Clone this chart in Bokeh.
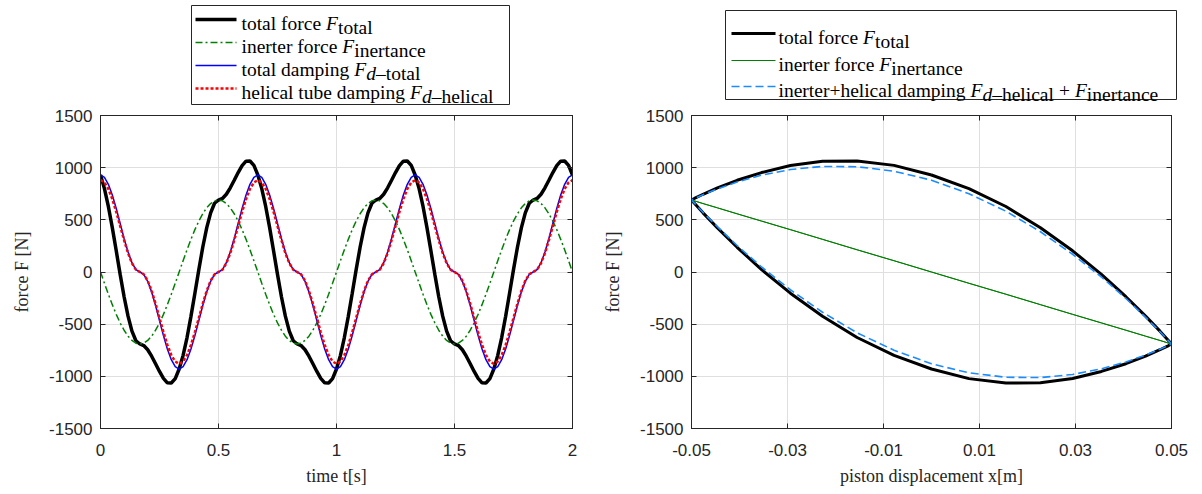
from bokeh.plotting import figure
from bokeh.layouts import row, column
from bokeh.models import Range1d, FixedTicker, LinearAxis, NumeralTickFormatter
from bokeh.core.properties import value
from bokeh.embed import file_html
from bokeh.resources import INLINE

# ---------------- data ----------------
time_s = [
    0, 0.0167, 0.0333, 0.05, 0.0667, 0.0833, 0.1, 0.1167, 0.1333, 0.15,
    0.1667, 0.1833, 0.2, 0.2167, 0.2333, 0.25, 0.2667, 0.2833, 0.3, 0.3167,
    0.3333, 0.35, 0.3667, 0.3833, 0.4, 0.4167, 0.4333, 0.45, 0.4667, 0.4833,
    0.5, 0.5167, 0.5333, 0.55, 0.5667, 0.5833, 0.6, 0.6167, 0.6333, 0.65,
    0.6667, 0.6833, 0.7, 0.7167, 0.7333, 0.75, 0.7667, 0.7833, 0.8, 0.8167,
    0.8333, 0.85, 0.8667, 0.8833, 0.9, 0.9167, 0.9333, 0.95, 0.9667, 0.9833,
    1.0, 1.0167, 1.0333, 1.05, 1.0667, 1.0833, 1.1, 1.1167, 1.1333, 1.15,
    1.1667, 1.1833, 1.2, 1.2167, 1.2333, 1.25, 1.2667, 1.2833, 1.3, 1.3167,
    1.3333, 1.35, 1.3667, 1.3833, 1.4, 1.4167, 1.4333, 1.45, 1.4667, 1.4833,
    1.5, 1.5167, 1.5333, 1.55, 1.5667, 1.5833, 1.6, 1.6167, 1.6333, 1.65,
    1.6667, 1.6833, 1.7, 1.7167, 1.7333, 1.75, 1.7667, 1.7833, 1.8, 1.8167,
    1.8333, 1.85, 1.8667, 1.8833, 1.9, 1.9167, 1.9333, 1.95, 1.9667, 1.9833,
    2.0,
]

f_total = [
    930, 799, 628, 425, 203, -23, -237, -423, -567, -659,
    -690, -705, -745, -807, -879, -953, -1020, -1062, -1064, -1022,
    -930, -799, -628, -425, -203, 23, 237, 423, 567, 659,
    690, 705, 745, 807, 879, 953, 1020, 1062, 1064, 1022,
    930, 799, 628, 425, 203, -23, -237, -423, -567, -659,
    -690, -705, -745, -807, -879, -953, -1020, -1062, -1064, -1022,
    -930, -799, -628, -425, -203, 23, 237, 423, 567, 659,
    690, 705, 745, 807, 879, 953, 1020, 1062, 1064, 1022,
    930, 799, 628, 425, 203, -23, -237, -423, -567, -659,
    -690, -705, -745, -807, -879, -953, -1020, -1062, -1064, -1022,
    -930, -799, -628, -425, -203, 23, 237, 423, 567, 659,
    690, 705, 745, 807, 879, 953, 1020, 1062, 1064, 1022,
    930,
]

f_inertance = [
    0, -108, -213, -313, -406, -488, -558, -615, -656, -682,
    -690, -682, -656, -615, -558, -488, -406, -313, -213, -108,
    0, 108, 213, 313, 406, 488, 558, 615, 656, 682,
    690, 682, 656, 615, 558, 488, 406, 313, 213, 108,
    0, -108, -213, -313, -406, -488, -558, -615, -656, -682,
    -690, -682, -656, -615, -558, -488, -406, -313, -213, -108,
    0, 108, 213, 313, 406, 488, 558, 615, 656, 682,
    690, 682, 656, 615, 558, 488, 406, 313, 213, 108,
    0, -108, -213, -313, -406, -488, -558, -615, -656, -682,
    -690, -682, -656, -615, -558, -488, -406, -313, -213, -108,
    0, 108, 213, 313, 406, 488, 558, 615, 656, 682,
    690, 682, 656, 615, 558, 488, 406, 313, 213, 108,
    0,
]

f_d_total = [
    930, 907, 841, 738, 609, 465, 321, 192, 89, 23,
    0, -23, -89, -192, -321, -465, -609, -738, -841, -907,
    -930, -907, -841, -738, -609, -465, -321, -192, -89, -23,
    0, 23, 89, 192, 321, 465, 609, 738, 841, 907,
    930, 907, 841, 738, 609, 465, 321, 192, 89, 23,
    0, -23, -89, -192, -321, -465, -609, -738, -841, -907,
    -930, -907, -841, -738, -609, -465, -321, -192, -89, -23,
    0, 23, 89, 192, 321, 465, 609, 738, 841, 907,
    930, 907, 841, 738, 609, 465, 321, 192, 89, 23,
    0, -23, -89, -192, -321, -465, -609, -738, -841, -907,
    -930, -907, -841, -738, -609, -465, -321, -192, -89, -23,
    0, 23, 89, 192, 321, 465, 609, 738, 841, 907,
    930,
]

f_d_helical = [
    880, 858, 796, 699, 576, 440, 304, 181, 84, 22,
    0, -22, -84, -181, -304, -440, -576, -699, -796, -858,
    -880, -858, -796, -699, -576, -440, -304, -181, -84, -22,
    0, 22, 84, 181, 304, 440, 576, 699, 796, 858,
    880, 858, 796, 699, 576, 440, 304, 181, 84, 22,
    0, -22, -84, -181, -304, -440, -576, -699, -796, -858,
    -880, -858, -796, -699, -576, -440, -304, -181, -84, -22,
    0, 22, 84, 181, 304, 440, 576, 699, 796, 858,
    880, 858, 796, 699, 576, 440, 304, 181, 84, 22,
    0, -22, -84, -181, -304, -440, -576, -699, -796, -858,
    -880, -858, -796, -699, -576, -440, -304, -181, -84, -22,
    0, 22, 84, 181, 304, 440, 576, 699, 796, 858,
    880,
]

# one cycle, force vs piston displacement
x_disp = [
    0, 0.0078, 0.0155, 0.0227, 0.0294, 0.0354, 0.0405, 0.0446, 0.0476, 0.0494,
    0.05, 0.0494, 0.0476, 0.0446, 0.0405, 0.0354, 0.0294, 0.0227, 0.0155, 0.0078,
    0, -0.0078, -0.0155, -0.0227, -0.0294, -0.0354, -0.0405, -0.0446, -0.0476, -0.0494,
    -0.05, -0.0494, -0.0476, -0.0446, -0.0405, -0.0354, -0.0294, -0.0227, -0.0155, -0.0078,
    0,
]
loop_total = f_total[:41]
loop_inertance = f_inertance[:41]
loop_helical_inertance = [
    880, 750, 583, 386, 170, -48, -254, -434, -572, -660,
    -690, -704, -740, -796, -862, -928, -982, -1012, -1009, -966,
    -880, -750, -583, -386, -170, 48, 254, 434, 572, 660,
    690, 704, 740, 796, 862, 928, 982, 1012, 1009, 966,
    880,
]

time_ticks = [0, 0.5, 1, 1.5, 2]
disp_ticks = [-0.05, -0.03, -0.01, 0.01, 0.03, 0.05]
force_ticks = [-1500, -1000, -500, 0, 500, 1000, 1500]

# ---------------- styling ----------------
INK = "#262626"
GRID = "#dfdfdf"
SERIF = "Liberation Serif"
SANS = "Liberation Sans"

BLACK = dict(line_color="black", line_width=3.5)
GREEN_DD = dict(line_color="#008000", line_width=1.5, line_dash="7 3 2 3")
BLUE = dict(line_color="#0000ff", line_width=1.5)
RED_DOT = dict(line_color="#ff0000", line_width=2.5, line_dash="3 2")
GREEN_THIN = dict(line_color="#008000", line_width=1)
AZURE_DASH = dict(line_color="#1a8cff", line_width=1.6, line_dash="8 4")

# Times/Liberation Serif advance widths (per 1000 em)
W_REG = {
    "a": 444, "b": 500, "c": 444, "d": 500, "e": 444, "f": 333, "g": 500, "h": 500,
    "i": 278, "j": 278, "k": 500, "l": 278, "m": 778, "n": 500, "o": 500, "p": 500,
    "q": 500, "r": 333, "s": 389, "t": 278, "u": 500, "v": 500, "w": 722, "x": 500,
    "y": 500, "z": 444, " ": 250, "+": 564, "\u2013": 500,
}
W_IT = {"F": 611, "d": 500}
FS = 19.5

TOP_H = 106          # height of the legend strip
MB_TOP, MB_BOTTOM = 9, 62
MAIN_H = MB_TOP + 313 + MB_BOTTOM
L_W, L_MBL, L_MBR = 600, 100, 28
R_W, R_MBL, R_MBR = 598, 90, 27


def tw(s, italic=False):
    tab = W_IT if italic else W_REG
    return sum(tab.get(c, 500) for c in s) * FS / 1000.0


def legend_row(p, x0, y, pieces):
    """pieces: (text, italic, subscript) tuples, or a number = horizontal gap in px"""
    x = x0
    for piece in pieces:
        if isinstance(piece, (int, float)):
            x += piece
            continue
        s, italic, sub = piece
        yy = y + (8 if sub else 4)
        p.text(x=[x], y=[yy], text=[s], text_font=value(SERIF),
               text_font_size=f"{FS}px",
               text_font_style="italic" if italic else "normal",
               text_baseline="alphabetic", text_align="left", text_color="black")
        x += tw(s, italic)
    return x


def legend_fig(width, page_x0, mbl, mbr):
    # coordinates inside are page pixels (x to the right, y downwards)
    p = figure(width=width, height=TOP_H, x_axis_type=None, y_axis_type=None,
               min_border=0, toolbar_location=None, output_backend="svg")
    try:
        p.frame_align = False
        p.x_range = Range1d(page_x0, page_x0 + width)
    except Exception:
        p.min_border_left = mbl
        p.min_border_right = mbr
        p.x_range = Range1d(page_x0 + mbl, page_x0 + width - mbr)
    p.y_range = Range1d(TOP_H, 0)
    p.outline_line_color = None
    p.grid.visible = False
    p.background_fill_color = "white"
    p.border_fill_color = "white"
    return p


def style_axis(ax, ticks, fmt, label, tick_standoff, label_standoff):
    ax.ticker = FixedTicker(ticks=ticks)
    ax.formatter = NumeralTickFormatter(format=fmt)
    ax.axis_label = label
    ax.axis_label_text_font = SERIF
    ax.axis_label_text_font_size = "18px"
    ax.axis_label_text_font_style = "normal"
    ax.axis_label_text_color = INK
    ax.major_label_text_font = SANS
    ax.major_label_text_font_size = "17px"
    ax.major_label_text_color = INK
    ax.major_label_standoff = tick_standoff
    ax.axis_label_standoff = label_standoff
    ax.axis_line_color = INK
    ax.major_tick_line_color = INK
    ax.major_tick_in = 5
    ax.major_tick_out = 0
    ax.minor_tick_line_color = None


def mirror_axis(ticks):
    return LinearAxis(ticker=FixedTicker(ticks=ticks), major_label_text_font_size="0px",
                      major_label_text_color=None, major_label_standoff=0,
                      major_tick_in=5, major_tick_out=0,
                      minor_tick_line_color=None, axis_line_color=INK,
                      major_tick_line_color=INK)


def main_fig(width, mbl, mbr, xr, xticks, xfmt, xlabel):
    p = figure(width=width, height=MAIN_H, x_range=xr, y_range=Range1d(-1500, 1500),
               min_border_left=mbl, min_border_right=mbr, min_border_top=MB_TOP,
               min_border_bottom=MB_BOTTOM, toolbar_location=None, output_backend="svg")
    p.background_fill_color = "white"
    p.border_fill_color = "white"
    p.outline_line_color = INK
    p.outline_line_width = 1
    style_axis(p.xaxis[0], xticks, xfmt, xlabel, 15, 7)
    style_axis(p.yaxis[0], force_ticks, "0", "force F [N]", 8, 14)
    p.xgrid.ticker = FixedTicker(ticks=xticks)
    p.ygrid.ticker = FixedTicker(ticks=force_ticks)
    p.grid.grid_line_color = GRID
    p.grid.grid_line_width = 1
    p.add_layout(mirror_axis(xticks), "above")
    p.add_layout(mirror_axis(force_ticks), "right")
    return p


# ---------------- left panel ----------------
pl = main_fig(L_W, L_MBL, L_MBR, Range1d(0, 2), time_ticks, "0.[0]", "time t[s]")
pl.line(time_s, f_total, **BLACK)
pl.line(time_s, f_inertance, **GREEN_DD)
pl.line(time_s, f_d_total, **BLUE)
pl.line(time_s, f_d_helical, **RED_DOT)

ll = legend_fig(L_W, 0, L_MBL, L_MBR)
ll.quad(left=[191], right=[509], top=[5], bottom=[104], fill_color="white",
        line_color=INK, line_width=1)
rows_l = [19, 42, 65, 88]
ll.line([195, 236], [rows_l[0]] * 2, **BLACK)
ll.line([195, 236], [rows_l[1]] * 2, **GREEN_DD)
ll.line([195, 236], [rows_l[2]] * 2, **BLUE)
ll.line([195, 236], [rows_l[3]] * 2, **RED_DOT)
tx = 241
legend_row(ll, tx, rows_l[0], [("total force", False, False), 5, ("F", True, False), ("total", False, True)])
legend_row(ll, tx, rows_l[1], [("inerter force", False, False), 5, ("F", True, False), ("inertance", False, True)])
legend_row(ll, tx, rows_l[2], [("total damping", False, False), 5, ("F", True, False), ("d", True, True), ("\u2013total", False, True)])
legend_row(ll, tx, rows_l[3], [("helical tube damping", False, False), 5, ("F", True, False), ("d", True, True), ("\u2013helical", False, True)])

# ---------------- right panel ----------------
pr = main_fig(R_W, R_MBL, R_MBR, Range1d(-0.05, 0.05), disp_ticks, "0.00", "piston displacement x[m]")
pr.line(x_disp, loop_total, line_color="black", line_width=3)
pr.line(x_disp, loop_inertance, **GREEN_THIN)
pr.line(x_disp, loop_helical_inertance, **AZURE_DASH)

lr = legend_fig(R_W, L_W, R_MBL, R_MBR)
lr.quad(left=[725], right=[1176], top=[10], bottom=[99], fill_color="white",
        line_color=INK, line_width=1)
rows_r = [33, 60, 86]
lr.line([731, 775], [rows_r[0]] * 2, line_color="black", line_width=3)
lr.line([731, 775], [rows_r[1]] * 2, **GREEN_THIN)
lr.line([731, 775], [rows_r[2]] * 2, **AZURE_DASH)
tx = 778
legend_row(lr, tx, rows_r[0], [("total force", False, False), 5, ("F", True, False), ("total", False, True)])
legend_row(lr, tx, rows_r[1], [("inerter force", False, False), 5, ("F", True, False), ("inertance", False, True)])
legend_row(lr, tx, rows_r[2], [("inerter+helical damping", False, False), 5, ("F", True, False),
                               ("d", True, True), ("\u2013helical", False, True), 5,
                               ("+", False, False), 5, ("F", True, False), ("inertance", False, True)])

layout = row(column(ll, pl), column(lr, pr))
open("out.html", "w").write(file_html(layout, INLINE))
